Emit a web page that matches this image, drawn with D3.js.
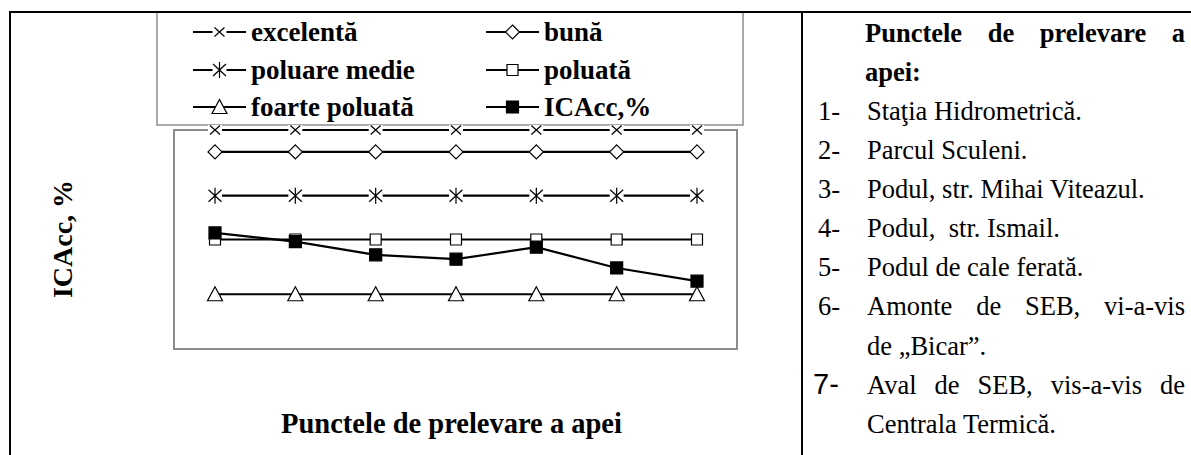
<!DOCTYPE html>
<html>
<head>
<meta charset="utf-8">
<script src="https://cdn.jsdelivr.net/npm/d3@7"></script>
<style>
  body { margin: 0; background: #fff; }
  svg { display: block; }
</style>
</head>
<body>
<div id="chart"></div>
<script>
const width = 1191;
const height = 455;
const serif = '"Liberation Serif", "Times New Roman", serif';

// data
const points = ['1', '2', '3', '4', '5', '6', '7'];
const excelenta = [100, 100, 100, 100, 100, 100, 100];
const buna = [90, 90, 90, 90, 90, 90, 90];
const poluareMedie = [70, 70, 70, 70, 70, 70, 70];
const poluata = [50, 50, 50, 50, 50, 50, 50];
const foartePoluata = [25, 25, 25, 25, 25, 25, 25];
const icacc = [53, 49, 43, 41, 46.5, 37, 31];

const seriesNames = ['excelentă', 'bună', 'poluare medie', 'poluată', 'foarte poluată', 'ICAcc,%'];
const seriesValues = [excelenta, buna, poluareMedie, poluata, foartePoluata, icacc];
const seriesMarks = ['times', 'diamond', 'asterisk', 'square', 'triangle', 'filled'];

const yTitle = 'ICAcc, %';
const xTitle = 'Punctele de prelevare a apei';
const sideTitle = ['Punctele de prelevare a', 'apei:'];
const sideItems = [
    ['1-', 'Staţia Hidrometrică.'],
    ['2-', 'Parcul Sculeni.'],
    ['3-', 'Podul, str. Mihai Viteazul.'],
    ['4-', 'Podul,  str. Ismail.'],
    ['5-', 'Podul de cale ferată.'],
    ['6-', 'Amonte de SEB, vi-a-vis', 'de „Bicar”.'],
    ['7-', 'Aval de SEB, vis-a-vis de', 'Centrala Termică.']
];

const frame = { left: 174, top: 130, right: 737, bottom: 349 };
const divider = 802;

const svg = d3.select('#chart')
    .append('svg')
    .attr('width', width)
    .attr('height', height);

// table lines
const table = svg.append('g').attr('stroke', '#000').attr('stroke-width', 2);
table.append('line').attr('x1', 9).attr('x2', width).attr('y1', 12).attr('y2', 12);
table.append('line').attr('x1', 10).attr('x2', 10).attr('y1', 12).attr('y2', height);
table.append('line').attr('x1', divider).attr('x2', divider).attr('y1', 12).attr('y2', height);

// plot frame
svg.append('rect')
    .attr('x', frame.left)
    .attr('y', frame.top)
    .attr('width', frame.right - frame.left)
    .attr('height', frame.bottom - frame.top)
    .attr('fill', 'none')
    .attr('stroke', '#8c8c8c')
    .attr('stroke-width', 2);

const x = d3.scalePoint().domain(points).range([215, 697]);
const y = d3.scaleLinear().domain([0, 100]).range([frame.bottom, frame.top]);

function markPath(kind) {
    switch (kind) {
        case 'times': return 'M-5,-4.5L5,4.5M-5,4.5L5,-4.5';
        case 'diamond': return 'M0,-7L7,0L0,7L-7,0Z';
        case 'asterisk': return 'M-6.5,-6L6.5,6M-6.5,6L6.5,-6M0,-8L0,8';
        case 'square': return 'M-5.5,-5.5H5.5V5.5H-5.5Z';
        case 'filled': return 'M-6,-6H6V6H-6Z';
        case 'triangle': return 'M0,-7.5L7.5,6.5L-7.5,6.5Z';
    }
}

function drawMark(g, kind, cx, cy) {
    const open = kind === 'times' || kind === 'asterisk';
    if (open) {
        // white gap behind the stroke-only markers
        g.append('rect')
            .attr('x', cx - 7).attr('y', cy - 5)
            .attr('width', 14).attr('height', 10)
            .attr('fill', '#fff');
    }
    g.append('path')
        .attr('d', markPath(kind))
        .attr('transform', `translate(${cx},${cy})`)
        .attr('fill', kind === 'filled' ? '#000' : (open ? 'none' : '#fff'))
        .attr('stroke', '#000')
        .attr('stroke-width', 1.2);
}

const line = d3.line().x((d, i) => x(points[i])).y(d => y(d));

const plot = svg.append('g');
seriesValues.forEach((vals) => {
    plot.append('path')
        .datum(vals)
        .attr('d', line)
        .attr('fill', 'none')
        .attr('stroke', '#000')
        .attr('stroke-width', 2.2);
});
seriesValues.forEach((vals, si) => {
    vals.forEach((v, i) => drawMark(plot, seriesMarks[si], x(points[i]), y(v)));
});

// legend
const legend = svg.append('g');
legend.append('rect')
    .attr('x', 157).attr('y', 12)
    .attr('width', 743 - 157).attr('height', 113)
    .attr('fill', '#fff')
    .attr('stroke', '#8c8c8c')
    .attr('stroke-width', 1.5);
// excelentă marks poke into the legend bottom like in the source
plot.raise();
legend.lower();
const legendRows = [32, 70, 107];
const legendCols = [193, 486];
seriesNames.forEach((name, i) => {
    const lx = legendCols[i % 2];
    const ly = legendRows[Math.floor(i / 2)];
    legend.append('line')
        .attr('x1', lx).attr('x2', lx + 53)
        .attr('y1', ly).attr('y2', ly)
        .attr('stroke', '#000').attr('stroke-width', 2.2);
    drawMark(legend, seriesMarks[i], lx + 26.5, ly);
    legend.append('text')
        .attr('x', lx + 58).attr('y', ly)
        .attr('dy', '0.33em')
        .attr('font-family', serif)
        .attr('font-weight', 'bold')
        .attr('font-size', 27)
        .text(name);
});

// axis titles
svg.append('text')
    .attr('transform', 'translate(63,239) rotate(-90)')
    .attr('text-anchor', 'middle')
    .attr('dy', '0.33em')
    .attr('font-family', serif)
    .attr('font-weight', 'bold')
    .attr('font-size', 28)
    .text(yTitle);
svg.append('text')
    .attr('x', (frame.left + frame.right) / 2 - 4).attr('y', 424)
    .attr('text-anchor', 'middle')
    .attr('dy', '0.33em')
    .attr('font-family', serif)
    .attr('font-weight', 'bold')
    .attr('font-size', 28.5)
    .text(xTitle);

// side text
const side = svg.append('g')
    .attr('font-family', serif)
    .attr('font-size', 26.5);
const lineGap = 39.1;
const firstLine = 33;
const numX = 818;
const textX = 867;
const textRight = 1185;

function justify(g, str, x0, x1, yy, bold) {
    const words = str.split(/\s+/);
    const nodes = words.map(w => g.append('text')
        .attr('y', yy).attr('dy', '0.33em')
        .attr('font-weight', bold ? 'bold' : null)
        .text(w));
    const total = d3.sum(nodes, n => n.node().getComputedTextLength());
    const gap = (x1 - x0 - total) / (words.length - 1);
    let cx = x0;
    nodes.forEach(n => {
        n.attr('x', cx);
        cx += n.node().getComputedTextLength() + gap;
    });
}

justify(side, sideTitle[0], textX - 2, textRight, firstLine, true);
side.append('text')
    .attr('x', textX - 2).attr('y', firstLine + lineGap).attr('dy', '0.33em')
    .attr('font-weight', 'bold')
    .text(sideTitle[1]);

let row = 2;
sideItems.forEach((item, i) => {
    const yy = firstLine + lineGap * row;
    const num = side.append('text')
        .attr('x', numX).attr('y', yy).attr('dy', '0.33em')
        .text(item[0]);
    if (i === 6) {
        num.attr('font-family', '"Liberation Sans", Arial, sans-serif')
            .attr('font-size', 29)
            .attr('x', numX - 5);
    }
    if (item.length === 3) {
        justify(side, item[1], textX, textRight, yy, false);
        row++;
        side.append('text')
            .attr('x', textX).attr('y', firstLine + lineGap * row).attr('dy', '0.33em')
            .text(item[2]);
    } else {
        side.append('text')
            .attr('x', textX).attr('y', yy).attr('dy', '0.33em')
            .style('white-space', 'pre')
            .text(item[1]);
    }
    row++;
});
</script>
</body>
</html>
